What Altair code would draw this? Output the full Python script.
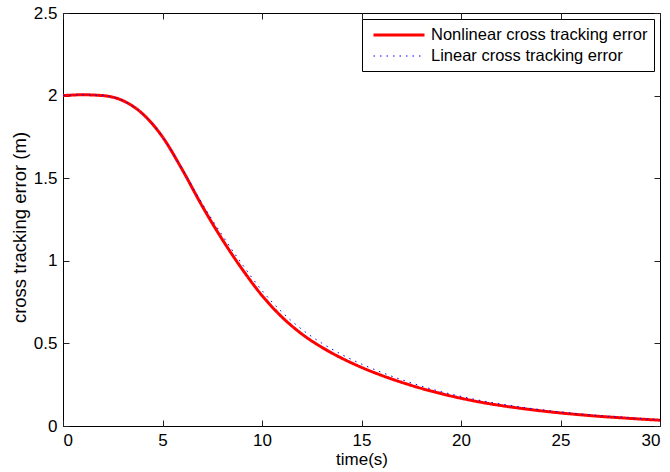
import altair as alt
import pandas as pd

# time samples (s)
time_s = [0, 1, 2, 3, 4, 5, 6, 7, 8, 9, 10, 11, 12, 13, 14, 15, 16, 17, 18, 19, 20,
          21, 22, 23, 24, 25, 26, 27, 28, 29, 30]
# nonlinear cross tracking error (m)
nonlinear = [2.0, 2.005, 2.0, 1.97, 1.89, 1.75, 1.55, 1.33, 1.13, 0.95, 0.79,
             0.66, 0.557, 0.477, 0.411, 0.355, 0.307, 0.265, 0.228, 0.196, 0.168,
             0.144, 0.124, 0.107, 0.092, 0.079, 0.068, 0.058, 0.05, 0.042, 0.035]
# linear cross tracking error (m)
linear = [2.0, 2.005, 2.0, 1.97, 1.89, 1.752, 1.555, 1.345, 1.155, 0.98, 0.82,
          0.69, 0.585, 0.502, 0.433, 0.375, 0.325, 0.281, 0.242, 0.208, 0.179,
          0.154, 0.133, 0.115, 0.099, 0.085, 0.073, 0.062, 0.054, 0.045, 0.038]

series_names = ["Nonlinear cross tracking error", "Linear cross tracking error"]
x_ticks = [0, 5, 10, 15, 20, 25, 30]
y_ticks = [0, 0.5, 1, 1.5, 2, 2.5]

rows = []
for t, v in zip(time_s, nonlinear):
    rows.append({"t": t, "e": v, "series": series_names[0]})
for t, v in zip(time_s, linear):
    rows.append({"t": t, "e": v, "series": series_names[1]})
df = pd.DataFrame(rows)

W, H = 597, 413
FONT = "Liberation Sans"

xscale = alt.Scale(domain=[0, 30], nice=False, zero=False)
yscale = alt.Scale(domain=[0, 2.5], nice=False, zero=False)

main = alt.Chart(df).mark_line(interpolate="monotone").encode(
    x=alt.X("t:Q", scale=xscale,
            axis=alt.Axis(orient="bottom", values=x_ticks, title="time(s)", ticks=False,
                          domain=False, grid=False, labelPadding=6, titlePadding=3,
                          titleFontSize=17, format="~g")),
    y=alt.Y("e:Q", scale=yscale,
            axis=alt.Axis(orient="left", values=y_ticks, title="cross tracking error (m)",
                          ticks=False, domain=False, grid=False, labelPadding=6,
                          titlePadding=4, titleFontSize=18.5, titleY=214, format="~g")),
    color=alt.Color("series:N",
                    scale=alt.Scale(domain=series_names, range=["#ff0000", "#0000ff"]),
                    legend=alt.Legend(title=None)),
    strokeDash=alt.StrokeDash("series:N",
                              scale=alt.Scale(domain=series_names, range=[[1, 0], [1.5, 5]]),
                              legend=alt.Legend(title=None)),
    strokeWidth=alt.StrokeWidth("series:N",
                                scale=alt.Scale(domain=series_names, range=[3, 1]),
                                legend=alt.Legend(title=None)),
    order=alt.Order("series:N", sort="descending"),
)

ticks_a = alt.Chart(df).mark_line(opacity=0).encode(
    x=alt.X("t:Q", scale=xscale,
            axis=alt.Axis(orient="top", offset=-H, values=x_ticks, labels=False, title=None,
                          ticks=True, tickSize=6, domain=False, grid=False)),
    y=alt.Y("e:Q", scale=yscale,
            axis=alt.Axis(orient="right", offset=-W, values=y_ticks, labels=False, title=None,
                          ticks=True, tickSize=6, domain=False, grid=False)),
)

ticks_b = alt.Chart(df).mark_line(opacity=0).encode(
    x=alt.X("t:Q", scale=xscale,
            axis=alt.Axis(orient="bottom", offset=-H, values=x_ticks, labels=False, title=None,
                          ticks=True, tickSize=6, domain=False, grid=False)),
    y=alt.Y("e:Q", scale=yscale,
            axis=alt.Axis(orient="left", offset=-W, values=y_ticks, labels=False, title=None,
                          ticks=True, tickSize=6, domain=False, grid=False)),
)

chart = alt.layer(main, ticks_a, ticks_b).resolve_axis(
    x="independent", y="independent"
).properties(
    width=W, height=H,
    background="white",
    autosize=alt.AutoSizeParams(type="none"),
    padding={"left": 63, "top": 13, "right": 10, "bottom": 46},
).configure_view(
    stroke="#000000", strokeWidth=1
).configure_axis(
    labelFont=FONT, titleFont=FONT, labelFontSize=17,
    labelColor="#000000", titleColor="#000000", titleFontWeight="normal",
    tickColor="#222222", tickWidth=1,
).configure_legend(
    orient="none", legendX=299, legendY=6,
    strokeColor="#000000", fillColor="#ffffff", padding=6,
    labelFont=FONT, labelFontSize=16.5, labelColor="#000000", labelLimit=400,
    symbolType="M-3,0H3", symbolSize=289, symbolOffset=21, labelOffset=22,
    rowPadding=3, cornerRadius=0,
)

chart.save("out.html", embed_options={"renderer": "svg", "actions": False})
